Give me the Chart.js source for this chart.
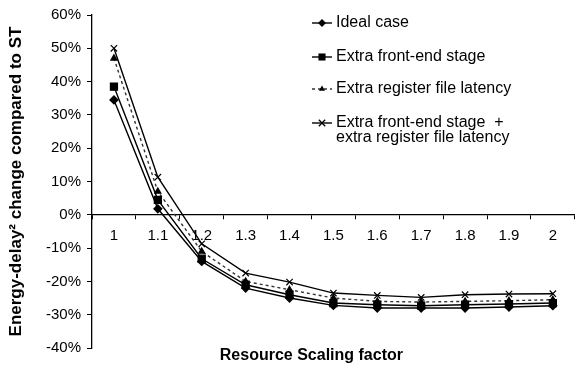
<!DOCTYPE html>
<html>
<head>
<meta charset="utf-8">
<script src="https://cdn.jsdelivr.net/npm/chart.js@4/dist/chart.umd.min.js"></script>
<style>
  html, body { margin: 0; padding: 0; background: #fff; }
  #wrap { width: 581px; height: 375px; }
</style>
</head>
<body>
<div id="wrap"><canvas id="c" width="581" height="375"></canvas></div>
<script>
// Resource scaling factors on the category axis
const scalingFactors = ['1', '1.1', '1.2', '1.3', '1.4', '1.5', '1.6', '1.7', '1.8', '1.9', '2'];

// Energy-delay^2 change (%) relative to ST
const idealCase      = [34.5, 1.8, -14.0, -22.0, -25.0, -27.2, -28.0, -28.0, -28.0, -27.7, -27.3];
const extraFrontEnd  = [38.5, 4.5, -13.2, -21.0, -24.0, -26.5, -27.0, -27.3, -27.0, -26.8, -26.5];
const extraRegFile   = [47.0, 7.0, -11.0, -20.0, -22.5, -25.0, -26.0, -26.2, -26.0, -25.8, -25.5];
const extraBoth      = [50.0, 11.3, -8.7, -17.5, -20.2, -23.5, -24.2, -24.8, -24.0, -23.8, -23.7];

const seriesNames = [
  ['Ideal case'],
  ['Extra front-end stage'],
  ['Extra register file latency'],
  ['Extra front-end stage  +', 'extra register file latency']
];

const yMin = -40, yMax = 60, yStep = 10;
const xTitle = 'Resource Scaling factor';
const yTitle = 'Energy-delay\u00B2 change compared to ST';

const FONT = "'Liberation Sans', Arial, sans-serif";

function drawMarker(ctx, style, x, y, r) {
  ctx.save();
  ctx.fillStyle = '#000';
  ctx.strokeStyle = '#000';
  ctx.lineWidth = 1.3;
  ctx.beginPath();
  if (style === 'rectRot') {
    ctx.moveTo(x, y - r); ctx.lineTo(x + r, y); ctx.lineTo(x, y + r); ctx.lineTo(x - r, y);
    ctx.closePath(); ctx.fill();
  } else if (style === 'rect') {
    const s = r * Math.SQRT1_2;
    ctx.rect(x - s, y - s, 2 * s, 2 * s); ctx.fill();
  } else if (style === 'triangle') {
    ctx.moveTo(x, y - r); ctx.lineTo(x + r * 0.87, y + r * 0.5); ctx.lineTo(x - r * 0.87, y + r * 0.5);
    ctx.closePath(); ctx.fill();
  } else if (style === 'crossRot') {
    const d = r * Math.SQRT1_2;
    ctx.moveTo(x - d, y - d); ctx.lineTo(x + d, y + d);
    ctx.moveTo(x + d, y - d); ctx.lineTo(x - d, y + d);
    ctx.stroke();
  }
  ctx.restore();
}

// Legend (with a two-line entry) and the x-axis title drawn on the canvas
const annotations = {
  id: 'annotations',
  afterDraw(chart) {
    const ctx = chart.ctx;
    const area = chart.chartArea;
    ctx.save();
    ctx.fillStyle = '#000';
    ctx.font = 'bold 16px ' + FONT;
    ctx.textAlign = 'center';
    ctx.textBaseline = 'middle';
    ctx.fillText(xTitle, (area.left + area.right) / 2 - 22, area.bottom + 8);

    const rows = [23, 57, 89, 123];
    ctx.font = '16px ' + FONT;
    ctx.textAlign = 'left';
    chart.data.datasets.forEach((ds, i) => {
      const y = rows[i];
      ctx.save();
      ctx.strokeStyle = ds.borderColor;
      ctx.lineWidth = ds.borderWidth;
      ctx.setLineDash(ds.borderDash || []);
      ctx.beginPath();
      ctx.moveTo(312, y); ctx.lineTo(332, y);
      ctx.stroke();
      ctx.restore();
      drawMarker(ctx, ds.pointStyle, 322, y, ds.pointRadius);
      ctx.fillStyle = '#000';
      seriesNames[i].forEach((line, k) => ctx.fillText(line, 336, y + k * 15));
    });
    ctx.restore();
  }
};

function series(label, data, pointStyle, radius, dash, color) {
  return {
    label, data, pointStyle,
    pointRadius: radius,
    pointHoverRadius: radius,
    borderColor: color,
    backgroundColor: '#000',
    pointBorderColor: '#000',
    pointBackgroundColor: '#000',
    pointBorderWidth: 1.2,
    borderWidth: 1.4,
    borderDash: dash,
    fill: false,
    tension: 0
  };
}

new Chart(document.getElementById('c'), {
  type: 'line',
  data: {
    labels: scalingFactors,
    datasets: [
      series(seriesNames[0].join(' '), idealCase, 'rectRot', 4, [], '#000'),
      series(seriesNames[1].join(' '), extraFrontEnd, 'rect', 5, [], '#000'),
      series(seriesNames[2].join(' '), extraRegFile, 'triangle', 3.5, [3, 3], '#333'),
      series(seriesNames[3].join(' '), extraBoth, 'crossRot', 4.5, [], '#000')
    ]
  },
  options: {
    responsive: false,
    animation: false,
    devicePixelRatio: 1,
    layout: { padding: { top: 12, right: 2, bottom: 27, left: 0 } },
    plugins: {
      legend: { display: false },
      tooltip: { enabled: false },
      title: { display: false }
    },
    scales: {
      x: {
        type: 'category',
        position: { y: 0 },
        offset: true,
        grid: {
          offset: true,
          drawOnChartArea: false,
          drawTicks: true,
          tickLength: 4,
          color: '#000',
          tickColor: '#000'
        },
        border: { color: '#000', width: 1.3 },
        ticks: {
          color: '#000',
          font: { family: FONT, size: 15 },
          padding: 8,
          maxRotation: 0,
          autoSkip: false
        }
      },
      y: {
        min: yMin,
        max: yMax,
        afterFit(scale) { scale.width = 92; },
        grid: {
          drawOnChartArea: false,
          drawTicks: true,
          tickLength: 5,
          color: '#000',
          tickColor: '#000'
        },
        border: { color: '#000', width: 1.3 },
        ticks: {
          stepSize: yStep,
          color: '#000',
          font: { family: FONT, size: 15 },
          padding: 6,
          callback: v => v + '%'
        },
        title: {
          display: true,
          text: yTitle,
          color: '#000',
          font: { family: FONT, size: 17, weight: 'bold' },
          padding: { top: 6, bottom: 0 }
        }
      }
    }
  },
  plugins: [annotations]
});
</script>
</body>
</html>
